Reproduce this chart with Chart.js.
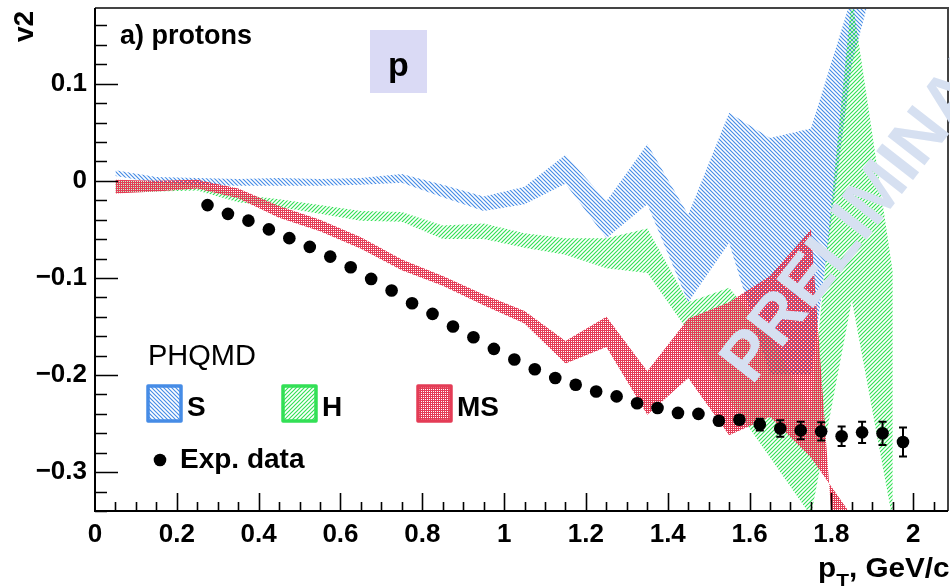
<!DOCTYPE html>
<html>
<head>
<meta charset="utf-8">
<title>v2 protons</title>
<script src="https://cdn.jsdelivr.net/npm/chart.js@4.4.0/dist/chart.umd.min.js"></script>
<style>
  html, body { margin: 0; padding: 0; background: #fff; }
  #wrap { position: relative; width: 950px; height: 586px; }
</style>
</head>
<body>
<div id="wrap"><canvas id="v2Chart" width="950" height="586"></canvas></div>
<script>
// PHQMD bands, points at pT bin centres
const bandX = [0.05, 0.15, 0.25, 0.35, 0.45, 0.55, 0.65, 0.75, 0.85, 0.95,
               1.05, 1.15, 1.25, 1.35, 1.45, 1.55, 1.65, 1.75, 1.85, 1.95];

// S (blue)
const sUpper = [0.011, 0.004, 0.003, 0.002, 0.003, 0.002, 0.003, 0.007, -0.004, -0.016,
                -0.006, 0.027, -0.021, 0.038, -0.035, 0.070, 0.044, 0.054, 0.19, 0.40];
const sLower = [0.005, -0.002, -0.004, -0.005, -0.005, -0.005, -0.004, -0.002, -0.017, -0.031,
                -0.024, -0.003, -0.059, -0.024, -0.125, -0.064, -0.20, -0.20, 0.12, 0.28];

// H (green)
const hUpper = [0.000, -0.001, -0.003, -0.014, -0.019, -0.025, -0.031, -0.032, -0.046, -0.044,
                -0.054, -0.059, -0.059, -0.049, -0.125, -0.110, -0.160, -0.237, 0.19, -0.094];
const hLower = [-0.012, -0.011, -0.010, -0.022, -0.027, -0.034, -0.041, -0.042, -0.060, -0.060,
                -0.069, -0.076, -0.090, -0.095, -0.155, -0.225, -0.285, -0.345, -0.123, -0.35];

// MS (red)
const msUpper = [0.001, 0.000, 0.001, -0.008, -0.026, -0.040, -0.058, -0.081, -0.098, -0.117,
                 -0.134, -0.165, -0.140, -0.196, -0.142, -0.125, -0.098, -0.050, -0.640, -0.700];
const msLower = [-0.013, -0.011, -0.008, -0.018, -0.038, -0.052, -0.070, -0.092, -0.108, -0.128,
                 -0.147, -0.188, -0.171, -0.241, -0.203, -0.262, -0.243, -0.285, -0.345, -0.420];

// experimental data
const expX = [0.275, 0.325, 0.375, 0.425, 0.475, 0.525, 0.575, 0.625, 0.675, 0.725,
              0.775, 0.825, 0.875, 0.925, 0.975, 1.025, 1.075, 1.125, 1.175, 1.225,
              1.275, 1.325, 1.375, 1.425, 1.475, 1.525, 1.575, 1.625, 1.675, 1.725,
              1.775, 1.825, 1.875, 1.925, 1.975];
const expY = [-0.025, -0.034, -0.041, -0.050, -0.059, -0.068, -0.078, -0.089, -0.101, -0.113,
              -0.126, -0.137, -0.150, -0.161, -0.173, -0.184, -0.194, -0.203, -0.210, -0.217,
              -0.222, -0.229, -0.234, -0.239, -0.240, -0.247, -0.246, -0.251, -0.255, -0.257,
              -0.258, -0.263, -0.259, -0.260, -0.269];
const expErr = [0.002, 0.002, 0.002, 0.002, 0.002, 0.002, 0.002, 0.002, 0.002, 0.002,
                0.002, 0.002, 0.002, 0.002, 0.002, 0.002, 0.002, 0.003, 0.003, 0.003,
                0.003, 0.003, 0.003, 0.003, 0.003, 0.003, 0.004, 0.006, 0.0085, 0.009,
                0.0095, 0.010, 0.011, 0.012, 0.015];

const xTicks = [0, 0.2, 0.4, 0.6, 0.8, 1, 1.2, 1.4, 1.6, 1.8, 2];
const yTicks = [-0.3, -0.2, -0.1, 0, 0.1];

const FONT = "'Liberation Sans', Arial, sans-serif";
const BLUE = 'rgb(70,140,230)';
const GREEN = 'rgb(50,224,85)';
const RED = 'rgb(228,60,86)';

const canvas = document.getElementById('v2Chart');
const ctx = canvas.getContext('2d');

// ROOT-like fill patterns
function hatch(color, rising) {
    const t = document.createElement('canvas');
    t.width = 4; t.height = 4;
    const c = t.getContext('2d');
    c.strokeStyle = color;
    c.lineWidth = 1.15;
    c.beginPath();
    if (rising) {
        c.moveTo(-1, 5); c.lineTo(5, -1);
        c.moveTo(-1, 1); c.lineTo(1, -1);
        c.moveTo(3, 5); c.lineTo(5, 3);
    } else {
        c.moveTo(-1, -1); c.lineTo(5, 5);
        c.moveTo(3, -1); c.lineTo(5, 1);
        c.moveTo(-1, 3); c.lineTo(1, 5);
    }
    c.stroke();
    return ctx.createPattern(t, 'repeat');
}

function mesh(color) {
    const t = document.createElement('canvas');
    t.width = 4; t.height = 4;
    const c = t.getContext('2d');
    c.fillStyle = color;
    c.fillRect(0, 0, 4, 4);
    c.clearRect(1, 1, 1, 1);
    c.clearRect(3, 3, 1, 1);
    c.clearRect(1, 3, 1, 1);
    c.clearRect(3, 1, 1, 1);
    return ctx.createPattern(t, 'repeat');
}

const bluePat = hatch(BLUE, false);
const greenPat = hatch(GREEN, true);
const redPat = mesh(RED);

const pts = (xs, ys) => xs.map((x, i) => ({ x: x, y: ys[i] }));

function fmt(v) {
    const r = Math.round(v * 10) / 10;
    if (r === 0) return '0';
    const s = String(Math.abs(r));
    return r < 0 ? '\u2212' + s : s;
}

function band(data, pattern) {
    return { data: data, fill: '+1', backgroundColor: pattern, borderWidth: 0, pointRadius: 0, tension: 0 };
}
function edge(data) {
    return { data: data, fill: false, borderWidth: 0, pointRadius: 0, tension: 0 };
}

// error bars on the exp. points
const errorBars = {
    id: 'errorBars',
    afterDatasetsDraw(chart) {
        const { x, y } = chart.scales;
        const c = chart.ctx;
        c.save();
        c.strokeStyle = '#000';
        c.lineWidth = 2;
        expX.forEach((xv, i) => {
            const px = x.getPixelForValue(xv);
            const top = y.getPixelForValue(expY[i] + expErr[i]);
            const bot = y.getPixelForValue(expY[i] - expErr[i]);
            c.beginPath();
            c.moveTo(px, top); c.lineTo(px, bot);
            c.moveTo(px - 4, top); c.lineTo(px + 4, top);
            c.moveTo(px - 4, bot); c.lineTo(px + 4, bot);
            c.stroke();
        });
        c.restore();
    }
};

// frame, inner ticks, labels, legend, watermark
const rootStyle = {
    id: 'rootStyle',
    afterDraw(chart) {
        const c = chart.ctx;
        const a = chart.chartArea;
        const { x, y } = chart.scales;
        c.save();

        // frame
        c.strokeStyle = '#444';
        c.lineWidth = 2;
        c.beginPath();
        c.moveTo(a.left, a.top); c.lineTo(a.right, a.top); c.lineTo(a.right, a.bottom);
        c.stroke();
        c.strokeStyle = '#000';
        c.beginPath();
        c.moveTo(a.left, a.top); c.lineTo(a.left, a.bottom); c.lineTo(a.right, a.bottom);
        c.stroke();

        // ticks inside the frame
        c.lineWidth = 1.6;
        c.beginPath();
        for (let k = -17; k <= 8; k++) {
            const v = k * 0.02;
            if (v < y.min || v > y.max) continue;
            const py = Math.round(y.getPixelForValue(v)) + 0.5;
            const len = (k % 5 === 0) ? 23 : 12;
            c.moveTo(a.left, py); c.lineTo(a.left + len, py);
        }
        for (let k = 1; k <= 41; k++) {
            const v = k * 0.05;
            if (v > x.max) continue;
            const px = Math.round(x.getPixelForValue(v)) + 0.5;
            const len = (k % 4 === 0) ? 18 : 9;
            c.moveTo(px, a.bottom); c.lineTo(px, a.bottom - len);
        }
        c.stroke();

        c.fillStyle = '#000';
        c.textBaseline = 'alphabetic';

        // axis titles
        c.save();
        c.translate(33, 42);
        c.rotate(-Math.PI / 2);
        c.font = 'bold 28px ' + FONT;
        c.textAlign = 'left';
        c.fillText('v2', 0, 0);
        c.restore();

        c.save();
        c.translate(818, 577);
        c.scale(1.1, 1);
        c.font = 'bold 27px ' + FONT;
        c.textAlign = 'left';
        c.fillText('p', 0, 0);
        let w = c.measureText('p').width;
        c.font = 'bold 19px ' + FONT;
        c.fillText('T', w, 10);
        w += c.measureText('T').width;
        c.font = 'bold 27px ' + FONT;
        c.fillText(', GeV/c', w, 0);
        c.restore();

        // panel label and particle box
        c.font = 'bold 27px ' + FONT;
        c.textAlign = 'left';
        c.fillText('a) protons', 120, 44);

        c.fillStyle = '#dadaf5';
        c.fillRect(370, 30, 57, 63);
        c.fillStyle = '#000';
        c.font = 'bold 34px ' + FONT;
        c.textAlign = 'center';
        c.fillText('p', 398.5, 76);

        // legend
        c.textAlign = 'left';
        c.font = '29px ' + FONT;
        c.fillText('PHQMD', 148, 365);

        const entries = [
            { x: 148, pat: bluePat, col: BLUE, label: 'S' },
            { x: 283, pat: greenPat, col: GREEN, label: 'H' },
            { x: 418, pat: redPat, col: RED, label: 'MS' }
        ];
        entries.forEach(e => {
            c.fillStyle = e.pat;
            c.fillRect(e.x, 386, 33, 35);
            c.strokeStyle = e.col;
            c.lineWidth = 3.5;
            c.lineJoin = 'round';
            c.strokeRect(e.x, 386, 33, 35);
            c.fillStyle = '#000';
            c.font = 'bold 28px ' + FONT;
            c.fillText(e.label, e.x + 39, 416);
        });

        c.beginPath();
        c.arc(160, 460, 6.3, 0, Math.PI * 2);
        c.fill();
        c.font = 'bold 28px ' + FONT;
        c.fillText('Exp. data', 180, 468);

        // watermark
        c.save();
        c.translate(752, 386);
        c.rotate(-52 * Math.PI / 180);
        c.fillStyle = '#d6e0f1';
        c.font = 'bold 68px ' + FONT;
        c.textAlign = 'left';
        c.fillText('PRELIMINARY', 0, 0);
        c.restore();

        c.restore();
    }
};

const tickFont = { family: FONT, size: 26, weight: 'bold' };

new Chart(ctx, {
    type: 'line',
    data: {
        datasets: [
            { label: 'Exp. data', data: pts(expX, expY), showLine: false, pointRadius: 6.3,
              pointHoverRadius: 6.3, pointBackgroundColor: '#000', pointBorderWidth: 0 },
            band(pts(bandX, msUpper), redPat),
            edge(pts(bandX, msLower)),
            band(pts(bandX, hUpper), greenPat),
            edge(pts(bandX, hLower)),
            band(pts(bandX, sUpper), bluePat),
            edge(pts(bandX, sLower))
        ]
    },
    options: {
        responsive: false,
        animation: false,
        devicePixelRatio: 1,
        layout: { autoPadding: false, padding: { top: 8, right: 2, left: 0, bottom: 0 } },
        plugins: {
            legend: { display: false },
            tooltip: { enabled: false },
            filler: { propagate: false }
        },
        scales: {
            x: {
                type: 'linear',
                min: 0,
                max: 2.085,
                afterBuildTicks: s => { s.ticks = xTicks.map(v => ({ value: v })); },
                afterFit: s => { s.height = 75; s.paddingLeft = 0; s.paddingRight = 0; },
                grid: { display: false, drawTicks: false },
                border: { display: false },
                ticks: { font: tickFont, color: '#000', padding: 8, maxRotation: 0,
                         autoSkip: false, callback: v => fmt(v) }
            },
            y: {
                type: 'linear',
                min: -0.34,
                max: 0.178,
                afterBuildTicks: s => { s.ticks = yTicks.map(v => ({ value: v })); },
                afterFit: s => { s.width = 95; s.paddingTop = 0; s.paddingBottom = 0; },
                grid: { display: false, drawTicks: false },
                border: { display: false },
                ticks: { font: tickFont, color: '#000', padding: 8, autoSkip: false,
                         callback: v => fmt(v) }
            }
        }
    },
    plugins: [errorBars, rootStyle]
});
</script>
</body>
</html>
